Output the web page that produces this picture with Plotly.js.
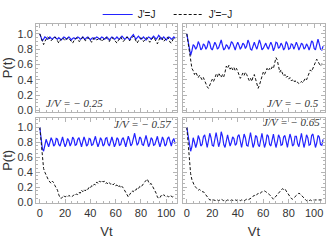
<!DOCTYPE html>
<html>
<head>
<meta charset="utf-8">
<script src="https://cdn.plot.ly/plotly-3.0.1.min.js"></script>
<style>html,body{margin:0;padding:0;background:#fff}#chart{width:334px;height:245px}</style>
</head>
<body>
<div id="chart"></div>
<script>
// time grid Vt
const vt = [0,1,2,3,4,5,6,7,8,9,10,11,12,13,14,15,16,17,18,19,20,21,22,23,24,25,26,27,28,29,
30,31,32,33,34,35,36,37,38,39,40,41,42,43,44,45,46,47,48,49,50,51,52,53,54,55,56,57,58,59,
60,61,62,63,64,65,66,67,68,69,70,71,72,73,74,75,76,77,78,79,80,81,82,83,84,85,86,87,88,89,
90,91,92,93,94,95,96,97,98,99,100,101,102,103,104,105,106,107];

const panelLabels = ["J/V = \u2212 0.25", "J/V = \u2212 0.5", "J/V = \u2212 0.57", "J/V = \u2212 0.65"];
const seriesNames = ["J'=J", "J'=\u2212J"];

// J/V = -0.25
const pA_same = [1.00,0.96,0.91,0.93,0.96,0.95,0.93,0.94,0.96,0.94,
0.93,0.95,0.96,0.94,0.93,0.95,0.94,0.92,0.94,0.96,
0.95,0.93,0.94,0.96,0.94,0.92,0.94,0.95,0.93,0.94,
0.96,0.95,0.93,0.94,0.96,0.94,0.93,0.95,0.96,0.94,
0.92,0.94,0.95,0.93,0.94,0.96,0.95,0.93,0.94,0.96,
0.95,0.93,0.94,0.96,0.94,0.92,0.94,0.96,0.95,0.93,
0.94,0.96,0.94,0.93,0.95,0.97,0.95,0.93,0.94,0.96,
0.94,0.92,0.95,0.97,0.99,0.96,0.93,0.95,0.97,0.95,
0.93,0.94,0.96,0.94,0.92,0.94,0.96,0.95,0.93,0.95,
0.97,0.95,0.93,0.95,0.98,0.96,0.93,0.94,0.96,0.94,
0.92,0.94,0.96,0.95,0.93,0.94,0.96,0.94];
const pA_opp = [1.00,0.95,0.89,0.86,0.90,0.94,0.96,0.95,0.92,0.91,
0.93,0.95,0.96,0.94,0.90,0.88,0.91,0.94,0.95,0.93,
0.91,0.93,0.95,0.94,0.92,0.89,0.88,0.91,0.94,0.95,
0.93,0.90,0.91,0.94,0.96,0.94,0.91,0.92,0.95,0.94,
0.91,0.89,0.92,0.95,0.94,0.92,0.93,0.95,0.93,0.90,
0.92,0.95,0.96,0.94,0.91,0.90,0.93,0.95,0.94,0.92,
0.89,0.88,0.91,0.94,0.96,0.93,0.90,0.92,0.95,0.96,
0.94,0.91,0.93,0.96,0.97,0.94,0.90,0.88,0.91,0.94,
0.95,0.93,0.90,0.92,0.95,0.94,0.91,0.89,0.92,0.95,
0.96,0.93,0.89,0.87,0.91,0.95,0.96,0.93,0.90,0.92,
0.95,0.96,0.93,0.89,0.88,0.92,0.95,0.94];

// J/V = -0.5
const pB_same = [1.00,0.92,0.80,0.72,0.78,0.86,0.84,0.80,0.83,0.90,
0.86,0.79,0.81,0.87,0.85,0.80,0.83,0.91,0.88,0.81,
0.79,0.84,0.89,0.86,0.80,0.82,0.88,0.92,0.85,0.79,
0.81,0.86,0.84,0.80,0.84,0.90,0.88,0.82,0.79,0.85,
0.89,0.85,0.80,0.83,0.88,0.86,0.81,0.84,0.92,0.88,
0.80,0.79,0.85,0.89,0.84,0.80,0.86,0.92,0.87,0.79,
0.81,0.86,0.88,0.83,0.80,0.85,0.89,0.85,0.78,0.82,
0.89,0.88,0.81,0.83,0.88,0.85,0.79,0.82,0.90,0.87,
0.80,0.81,0.87,0.86,0.80,0.84,0.89,0.85,0.79,0.83,
0.88,0.86,0.80,0.82,0.87,0.84,0.79,0.84,0.91,0.89,
0.81,0.79,0.86,0.93,0.87,0.80,0.79,0.84];
const pB_opp = [1.00,0.88,0.72,0.60,0.55,0.52,0.47,0.50,0.46,0.43,
0.46,0.42,0.40,0.43,0.38,0.34,0.31,0.29,0.33,0.37,
0.41,0.38,0.43,0.47,0.44,0.49,0.46,0.43,0.47,0.44,
0.50,0.58,0.55,0.59,0.54,0.57,0.53,0.56,0.52,0.55,
0.51,0.46,0.42,0.45,0.49,0.46,0.50,0.47,0.43,0.39,
0.42,0.38,0.44,0.47,0.41,0.35,0.29,0.33,0.40,0.46,
0.50,0.47,0.52,0.55,0.52,0.55,0.53,0.57,0.55,0.62,
0.69,0.66,0.57,0.50,0.53,0.48,0.45,0.47,0.43,0.45,
0.41,0.43,0.39,0.40,0.37,0.39,0.36,0.37,0.35,0.36,
0.38,0.36,0.40,0.42,0.40,0.45,0.50,0.53,0.51,0.55,
0.58,0.62,0.67,0.64,0.60,0.58,0.61,0.58];

// J/V = -0.57
const pC_same = [1.00,0.88,0.72,0.68,0.76,0.84,0.79,0.74,0.80,0.86,
0.82,0.75,0.77,0.85,0.84,0.77,0.75,0.82,0.87,0.80,
0.74,0.78,0.85,0.82,0.75,0.79,0.87,0.84,0.76,0.77,
0.84,0.86,0.79,0.74,0.81,0.87,0.82,0.75,0.77,0.85,
0.84,0.76,0.77,0.84,0.88,0.80,0.74,0.79,0.86,0.83,
0.75,0.77,0.85,0.86,0.78,0.75,0.82,0.87,0.81,0.74,
0.78,0.86,0.84,0.76,0.77,0.84,0.86,0.79,0.74,0.81,
0.88,0.83,0.75,0.78,0.86,0.92,0.84,0.76,0.79,0.87,
0.85,0.77,0.76,0.84,0.89,0.82,0.74,0.78,0.86,0.84,
0.76,0.77,0.84,0.88,0.80,0.74,0.80,0.87,0.83,0.75,
0.77,0.85,0.87,0.79,0.75,0.82,0.85,0.78];
const pC_opp = [1.00,0.82,0.58,0.45,0.40,0.36,0.33,0.29,0.27,0.25,
0.28,0.26,0.22,0.19,0.16,0.10,0.06,0.05,0.08,0.09,
0.07,0.08,0.07,0.09,0.08,0.07,0.08,0.10,0.09,0.11,
0.10,0.13,0.12,0.16,0.14,0.17,0.15,0.18,0.17,0.20,
0.19,0.22,0.21,0.24,0.23,0.27,0.25,0.28,0.27,0.29,
0.27,0.28,0.25,0.26,0.24,0.26,0.24,0.25,0.23,0.25,
0.22,0.23,0.20,0.22,0.19,0.21,0.19,0.16,0.12,0.09,
0.07,0.10,0.13,0.15,0.14,0.17,0.16,0.19,0.18,0.21,
0.20,0.23,0.24,0.27,0.29,0.31,0.27,0.24,0.25,0.22,
0.19,0.16,0.12,0.07,0.05,0.06,0.09,0.08,0.10,0.08,
0.07,0.08,0.07,0.09,0.08,0.07,0.08,0.07];

// J/V = -0.65
const pD_same = [1.00,0.90,0.76,0.68,0.74,0.86,0.80,0.73,0.79,0.89,
0.84,0.75,0.77,0.87,0.90,0.80,0.73,0.82,0.92,0.86,
0.76,0.75,0.85,0.93,0.84,0.74,0.80,0.94,0.88,0.77,
0.73,0.83,0.90,0.82,0.75,0.80,0.87,0.85,0.76,0.78,
0.88,0.90,0.80,0.73,0.82,0.91,0.86,0.76,0.75,0.86,
0.93,0.83,0.73,0.78,0.89,0.87,0.77,0.74,0.85,0.92,
0.82,0.73,0.79,0.90,0.88,0.77,0.75,0.85,0.91,0.81,
0.73,0.80,0.90,0.86,0.76,0.77,0.87,0.89,0.80,0.73,
0.83,0.91,0.85,0.75,0.77,0.88,0.88,0.78,0.74,0.84,
0.92,0.82,0.73,0.80,0.90,0.86,0.76,0.77,0.89,0.91,
0.81,0.73,0.79,0.89,0.87,0.77,0.76,0.84];
const pD_opp = [1.00,0.75,0.50,0.38,0.30,0.25,0.22,0.20,0.17,0.16,
0.17,0.15,0.14,0.14,0.12,0.10,0.07,0.05,0.03,0.03,
0.02,0.03,0.02,0.02,0.03,0.02,0.03,0.04,0.03,0.02,
0.03,0.02,0.03,0.02,0.02,0.03,0.02,0.02,0.03,0.02,
0.02,0.03,0.02,0.03,0.02,0.02,0.03,0.04,0.03,0.04,
0.04,0.06,0.08,0.09,0.08,0.10,0.12,0.11,0.13,0.14,
0.14,0.15,0.14,0.13,0.12,0.10,0.08,0.05,0.04,0.06,
0.08,0.11,0.12,0.14,0.16,0.18,0.17,0.18,0.15,0.12,
0.10,0.07,0.05,0.04,0.06,0.08,0.09,0.10,0.12,0.11,
0.09,0.07,0.05,0.03,0.02,0.03,0.02,0.03,0.02,0.03,
0.03,0.02,0.03,0.02,0.02,0.03,0.02,0.03];

const sameSeries = [pA_same, pB_same, pC_same, pD_same];
const oppSeries = [pA_opp, pB_opp, pC_opp, pD_opp];

const BLUE = '#2323ff';
const traces = [];
for (let i = 0; i < 4; i++) {
  const ax = i === 0 ? '' : String(i + 1);
  traces.push({x: vt, y: sameSeries[i], xaxis: 'x' + ax, yaxis: 'y' + ax, type: 'scatter', mode: 'lines',
    name: seriesNames[0], showlegend: i === 0, legendrank: 1,
    line: {color: BLUE, width: 1.2}});
  traces.push({x: vt, y: oppSeries[i], xaxis: 'x' + ax, yaxis: 'y' + ax, type: 'scatter', mode: 'lines',
    name: seriesNames[1], showlegend: i === 0, legendrank: 2,
    line: {color: '#111', width: 1, dash: '3px,2px'}});
}

const FRAME = '#b4b4b4';
const tickFont = {family: 'Liberation Sans, Arial, sans-serif', size: 11, color: '#333'};
function xax(domain, anchor, labels) {
  return {domain: domain, anchor: anchor, range: [-3, 108.5], showgrid: false, zeroline: false,
    showline: true, linecolor: FRAME, linewidth: 1, mirror: 'ticks',
    ticks: 'inside', ticklen: 4, tickcolor: FRAME, tick0: 0, dtick: 20,
    minor: {ticks: 'inside', ticklen: 2, tickcolor: FRAME, dtick: 5},
    showticklabels: labels, tickfont: tickFont,
    title: labels ? {text: 'Vt', font: {family: 'Liberation Sans, Arial, sans-serif', size: 13, color: '#333'}, standoff: 8} : {text: ''}};
}
function yax(domain, anchor, labels) {
  return {domain: domain, anchor: anchor, range: [-0.013, 1.13], showgrid: false, zeroline: false,
    showline: true, linecolor: FRAME, linewidth: 1, mirror: 'ticks',
    ticks: 'inside', ticklen: 4, tickcolor: FRAME, tick0: 0, dtick: 0.2, tickformat: '.1f',
    minor: {ticks: 'inside', ticklen: 2, tickcolor: FRAME, dtick: 0.05},
    showticklabels: labels, tickfont: tickFont,
    title: labels ? {text: 'P(t)', font: {family: 'Liberation Sans, Arial, sans-serif', size: 13, color: '#333'}, standoff: 3} : {text: ''}};
}
const dxL = [36/334, 177/334], dxR = [183/334, 325/334];
const dyT = [1 - 111/245, 1 - 23/245], dyB = [1 - 203/245, 1 - 117/245];

const annFont = {family: 'Liberation Serif, DejaVu Serif, serif', size: 11, color: '#333'};
const layout = {
  width: 334, height: 245, margin: {l: 0, r: 0, t: 0, b: 0},
  paper_bgcolor: '#fff', plot_bgcolor: '#fff',
  xaxis: xax(dxL, 'y', false), yaxis: yax(dyT, 'x', true),
  xaxis2: xax(dxR, 'y2', false), yaxis2: yax(dyT, 'x2', false),
  xaxis3: xax(dxL, 'y3', true), yaxis3: yax(dyB, 'x3', true),
  xaxis4: xax(dxR, 'y4', true), yaxis4: yax(dyB, 'x4', false),
  showlegend: true,
  legend: {orientation: 'h', x: 0.505, xanchor: 'center', y: 1.005, yanchor: 'top',
    font: {family: 'Liberation Sans, Arial, sans-serif', size: 10, color: '#222'},
    entrywidth: 26, entrywidthmode: 'pixels', tracegroupgap: 0, bgcolor: 'rgba(0,0,0,0)'},
  annotations: [
    {xref: 'x domain', yref: 'y domain', x: 0.06, y: 0.1, xanchor: 'left', yanchor: 'middle', showarrow: false,
      text: '<i>' + panelLabels[0] + '</i>', font: annFont},
    {xref: 'x2 domain', yref: 'y2 domain', x: 0.97, y: 0.1, xanchor: 'right', yanchor: 'middle', showarrow: false,
      text: '<i>' + panelLabels[1] + '</i>', font: annFont},
    {xref: 'x3 domain', yref: 'y3 domain', x: 0.97, y: 0.92, xanchor: 'right', yanchor: 'middle', showarrow: false,
      text: '<i>' + panelLabels[2] + '</i>', font: annFont},
    {xref: 'x4 domain', yref: 'y4 domain', x: 0.98, y: 0.95, xanchor: 'right', yanchor: 'middle', showarrow: false,
      text: '<i>' + panelLabels[3] + '</i>', font: annFont}
  ]
};

Plotly.newPlot('chart', traces, layout, {staticPlot: true, displayModeBar: false});
</script>
</body>
</html>
